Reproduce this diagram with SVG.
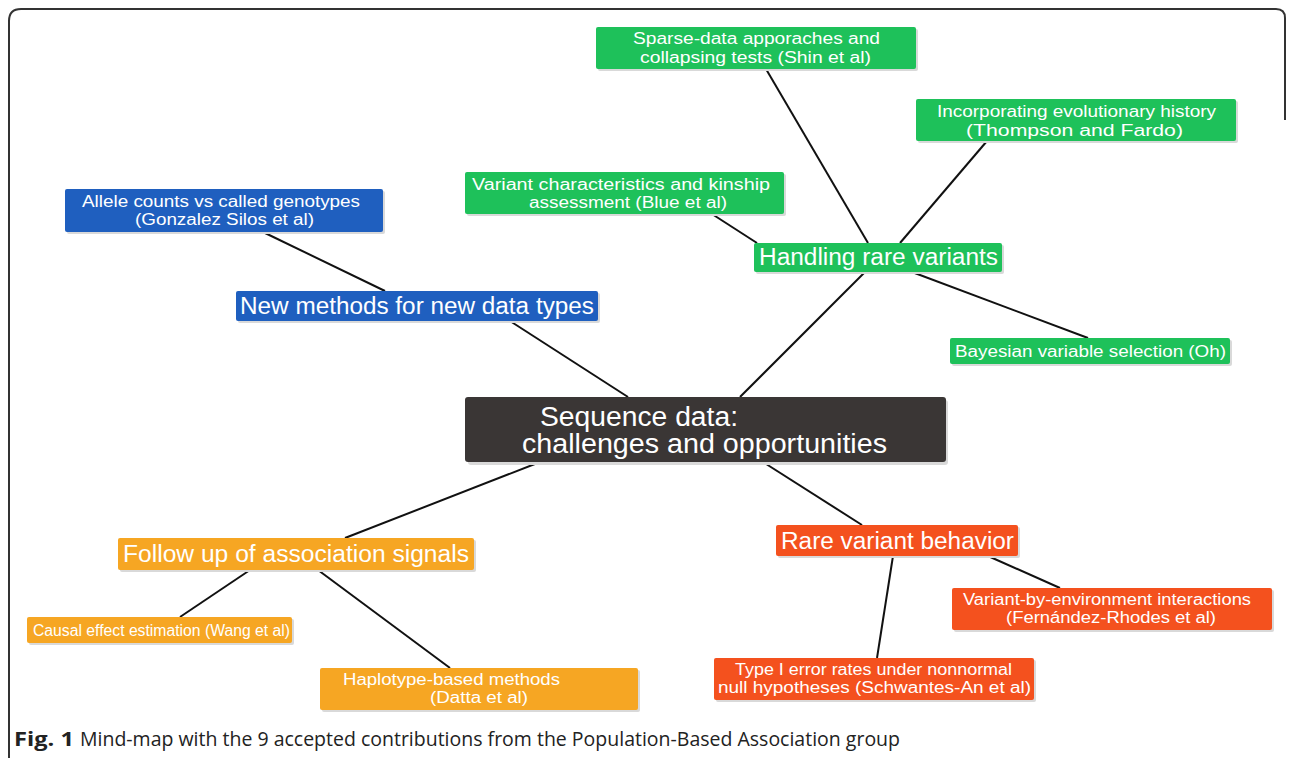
<svg xmlns="http://www.w3.org/2000/svg" width="1292" height="758" viewBox="0 0 1292 758">
<style>
.t{font-family:"Liberation Sans",Arial,sans-serif;fill:#fff}
.s{font-size:16px}
.m{font-size:23px}
.sh{fill:#d9d9d9}
.blue{fill:#1f5fbf}
.green{fill:#1ec15a}
.orange{fill:#f6a623}
.red{fill:#f4511e}
.dark{fill:#3a3635}
.cap{font-family:"Open Sans","Liberation Sans",sans-serif;font-size:20px;fill:#222}
</style>
<rect width="1292" height="758" fill="#fff"/>
<path d="M9,758 V21 Q9,9 21,9 H1276 Q1285,9 1285,18 V120" fill="none" stroke="#333" stroke-width="2"/>
<g id="connectors" stroke="#111" stroke-width="2" fill="none">
<line x1="628" y1="397" x2="510" y2="321"/>
<line x1="263" y1="232" x2="385" y2="291"/>
<line x1="740" y1="397" x2="865" y2="272"/>
<line x1="868" y1="243" x2="766" y2="69"/>
<line x1="900" y1="243" x2="987" y2="141"/>
<line x1="757" y1="243" x2="712" y2="214"/>
<line x1="912" y1="272" x2="1088" y2="338"/>
<line x1="540" y1="462" x2="345" y2="538"/>
<line x1="250" y1="570" x2="180" y2="617"/>
<line x1="318" y1="570" x2="450" y2="668"/>
<line x1="763" y1="462" x2="862" y2="525"/>
<line x1="893" y1="556" x2="877" y2="658"/>
<line x1="988" y1="556" x2="1060" y2="588"/>
</g>
<g id="center">
<rect class="sh" x="468" y="400" width="480" height="65" rx="3"/>
<rect class="dark" x="465" y="397" width="481" height="65" rx="3"/>
<text class="t" x="540" y="426" font-size="27" textLength="198" lengthAdjust="spacingAndGlyphs">Sequence data:</text>
<text class="t" x="522" y="453" font-size="27" textLength="365" lengthAdjust="spacingAndGlyphs">challenges and opportunities</text>
</g>
<g id="new-methods">
<rect class="sh" x="238" y="293" width="362" height="30" rx="2"/>
<rect class="blue" x="236" y="291" width="362" height="30" rx="2"/>
<text class="t m" x="240" y="314" textLength="354" lengthAdjust="spacingAndGlyphs">New methods for new data types</text>
</g>
<g id="allele-counts">
<rect class="sh" x="67" y="191" width="318" height="43" rx="2"/>
<rect class="blue" x="65" y="189" width="318" height="43" rx="2"/>
<text class="t s" x="82" y="207" textLength="278" lengthAdjust="spacingAndGlyphs">Allele counts vs called genotypes</text>
<text class="t s" x="135" y="225" textLength="179" lengthAdjust="spacingAndGlyphs">(Gonzalez Silos et al)</text>
</g>
<g id="handling-rare">
<rect class="sh" x="756" y="245" width="248" height="29" rx="2"/>
<rect class="green" x="754" y="243" width="248" height="29" rx="2"/>
<text class="t m" x="759" y="265" textLength="239" lengthAdjust="spacingAndGlyphs">Handling rare variants</text>
</g>
<g id="sparse-data">
<rect class="sh" x="598" y="29" width="320" height="42" rx="2"/>
<rect class="green" x="596" y="27" width="320" height="42" rx="2"/>
<text class="t s" x="633" y="44" textLength="247" lengthAdjust="spacingAndGlyphs">Sparse-data apporaches and</text>
<text class="t s" x="640" y="63" textLength="231" lengthAdjust="spacingAndGlyphs">collapsing tests (Shin et al)</text>
</g>
<g id="evolutionary">
<rect class="sh" x="918" y="101" width="320" height="42" rx="2"/>
<rect class="green" x="916" y="99" width="320" height="42" rx="2"/>
<text class="t s" x="937" y="117" textLength="279" lengthAdjust="spacingAndGlyphs">Incorporating evolutionary history</text>
<text class="t s" x="966" y="136" textLength="217" lengthAdjust="spacingAndGlyphs">(Thompson and Fardo)</text>
</g>
<g id="kinship">
<rect class="sh" x="467" y="174" width="319" height="42" rx="2"/>
<rect class="green" x="465" y="172" width="319" height="42" rx="2"/>
<text class="t s" x="472" y="190" textLength="298" lengthAdjust="spacingAndGlyphs">Variant characteristics and kinship</text>
<text class="t s" x="529" y="208" textLength="198" lengthAdjust="spacingAndGlyphs">assessment (Blue et al)</text>
</g>
<g id="bayesian">
<rect class="sh" x="952" y="340" width="280" height="26" rx="2"/>
<rect class="green" x="950" y="338" width="280" height="26" rx="2"/>
<text class="t s" x="955" y="357" textLength="271" lengthAdjust="spacingAndGlyphs">Bayesian variable selection (Oh)</text>
</g>
<g id="follow-up">
<rect class="sh" x="120" y="540" width="356" height="32" rx="2"/>
<rect class="orange" x="118" y="538" width="356" height="32" rx="2"/>
<text class="t m" x="123" y="562" textLength="346" lengthAdjust="spacingAndGlyphs">Follow up of association signals</text>
</g>
<g id="causal">
<rect class="sh" x="29" y="619" width="265" height="26" rx="2"/>
<rect class="orange" x="27" y="617" width="265" height="26" rx="2"/>
<text class="t s" x="33" y="636" textLength="257" lengthAdjust="spacingAndGlyphs">Causal effect estimation (Wang et al)</text>
</g>
<g id="haplotype">
<rect class="sh" x="322" y="670" width="318" height="42" rx="2"/>
<rect class="orange" x="320" y="668" width="318" height="42" rx="2"/>
<text class="t s" x="343" y="685" textLength="217" lengthAdjust="spacingAndGlyphs">Haplotype-based methods</text>
<text class="t s" x="430" y="703" textLength="98" lengthAdjust="spacingAndGlyphs">(Datta et al)</text>
</g>
<g id="rare-behavior">
<rect class="sh" x="778" y="527" width="242" height="31" rx="2"/>
<rect class="red" x="776" y="525" width="242" height="31" rx="2"/>
<text class="t m" x="781" y="549" textLength="233" lengthAdjust="spacingAndGlyphs">Rare variant behavior</text>
</g>
<g id="environment">
<rect class="sh" x="954" y="590" width="320" height="42" rx="2"/>
<rect class="red" x="952" y="588" width="320" height="42" rx="2"/>
<text class="t s" x="963" y="605" textLength="288" lengthAdjust="spacingAndGlyphs">Variant-by-environment interactions</text>
<text class="t s" x="1006" y="623" textLength="210" lengthAdjust="spacingAndGlyphs">(Fernández-Rhodes et al)</text>
</g>
<g id="type-one">
<rect class="sh" x="716" y="660" width="320" height="42" rx="2"/>
<rect class="red" x="714" y="658" width="320" height="42" rx="2"/>
<text class="t s" x="735" y="675" textLength="277" lengthAdjust="spacingAndGlyphs">Type I error rates under nonnormal</text>
<text class="t s" x="718" y="693" textLength="313" lengthAdjust="spacingAndGlyphs">null hypotheses (Schwantes-An et al)</text>
</g>
<g id="caption">
<text class="cap" x="14" y="746" font-weight="bold" textLength="60" lengthAdjust="spacingAndGlyphs">Fig. 1</text>
<text class="cap" x="80" y="746" textLength="820" lengthAdjust="spacingAndGlyphs">Mind-map with the 9 accepted contributions from the Population-Based Association group</text>
</g>
</svg>
